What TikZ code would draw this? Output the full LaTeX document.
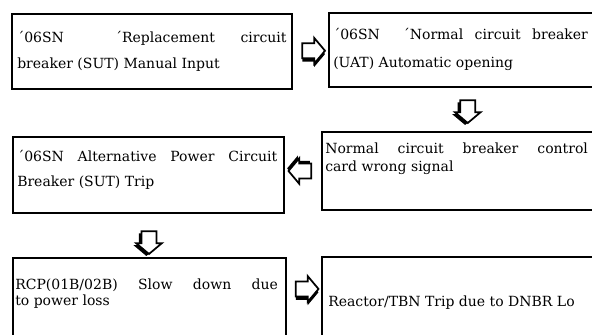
\documentclass[tikz,border=0pt]{standalone}
\usepackage{fontspec}
\setmainfont{DejaVu Serif}
\usetikzlibrary{calc, fit, shapes.arrows, shadows}

\tikzset{
  box/.style={draw=black, line width=0.8pt, inner sep=0pt},
  txt/.style={anchor=north west, inner sep=0pt, align=justify, font=\fontsize{10.5}{13}\selectfont},
  blockarr/.style={single arrow, draw=black, fill=white, line width=1.3pt,
    inner sep=5pt, single arrow head extend=4pt, single arrow tip angle=100,
    minimum height=17pt}
}

\begin{document}
\begin{tikzpicture}[x=0.75pt, y=-0.75pt]
  \useasboundingbox (0,0) rectangle (592,335);
  \fill[white] (0,0) rectangle (592,335);
  \clip (0,0) rectangle (592,335);

  % boxes
  \node[box, fit={(12,14) (292,89)}] (b1) {};
  \node[box, fit={(329,13) (610,87)}] (b2) {};
  \node[box, fit={(13,137) (284,213)}] (b3) {};
  \node[box, fit={(322,132) (610,210)}] (b4) {};
  \node[box, fit={(13,258) (286,350)}] (b5) {};
  \node[box, fit={(322,257) (610,350)}] (b6) {};

  % texts
  \node[txt, text width=202pt, font=\fontsize{10.5}{19.5}\selectfont] (t1) at (17,31)
    {´06SN \ ´Replacement circuit\linebreak breaker (SUT) Manual Input};
  \node[txt, text width=191pt, font=\fontsize{10.5}{21}\selectfont] (t2) at (333,28)
    {´06SN \ ´Normal circuit breaker\linebreak (UAT) Automatic opening};
  \node[txt, text width=195pt, font=\fontsize{10.5}{19}\selectfont] (t3) at (17,150)
    {´06SN Alternative Power Circuit\linebreak Breaker (SUT) Trip};
  \node[txt, text width=197pt] (t4) at (325,143)
    {Normal circuit breaker control\linebreak card wrong signal};
  \node[txt, text width=197pt, font=\fontsize{10.5}{11.5}\selectfont] (t5) at (15,279)
    {RCP(01B/02B) Slow down due\linebreak to power loss};
  \node[txt] (t6) at (328,296)
    {Reactor/TBN Trip due to DNBR Lo};

  % arrows
  \node[blockarr, drop shadow={fill=black, opacity=1, shadow xshift=0pt, shadow yshift=-2.5pt}]
    (a12) at ($(b1.east)!.5!(b2.west)$) {};
  \node[blockarr, shape border rotate=270,
    drop shadow={fill=black, opacity=1, shadow xshift=-2pt, shadow yshift=-1.5pt}]
    (a24) at ($(b2.south)!.5!(b4.north) + (0,-1)$) {};
  \node[blockarr, shape border rotate=180,
    drop shadow={fill=black, opacity=1, shadow xshift=-1pt, shadow yshift=2pt}]
    (a43) at ($(b3.east)!.5!(b4.west) + (0,-2)$) {};
  \node[blockarr, shape border rotate=270,
    drop shadow={fill=black, opacity=1, shadow xshift=-2pt, shadow yshift=-1.5pt}]
    (a35) at ($(b3.south)!.5!(b5.north) + (0,4)$) {};
  \node[blockarr, drop shadow={fill=black, opacity=1, shadow xshift=0pt, shadow yshift=-2.5pt}]
    (a56) at ($(b5.north east)!.5!(b6.north west) + (0,32)$) {};
\end{tikzpicture}
\end{document}
